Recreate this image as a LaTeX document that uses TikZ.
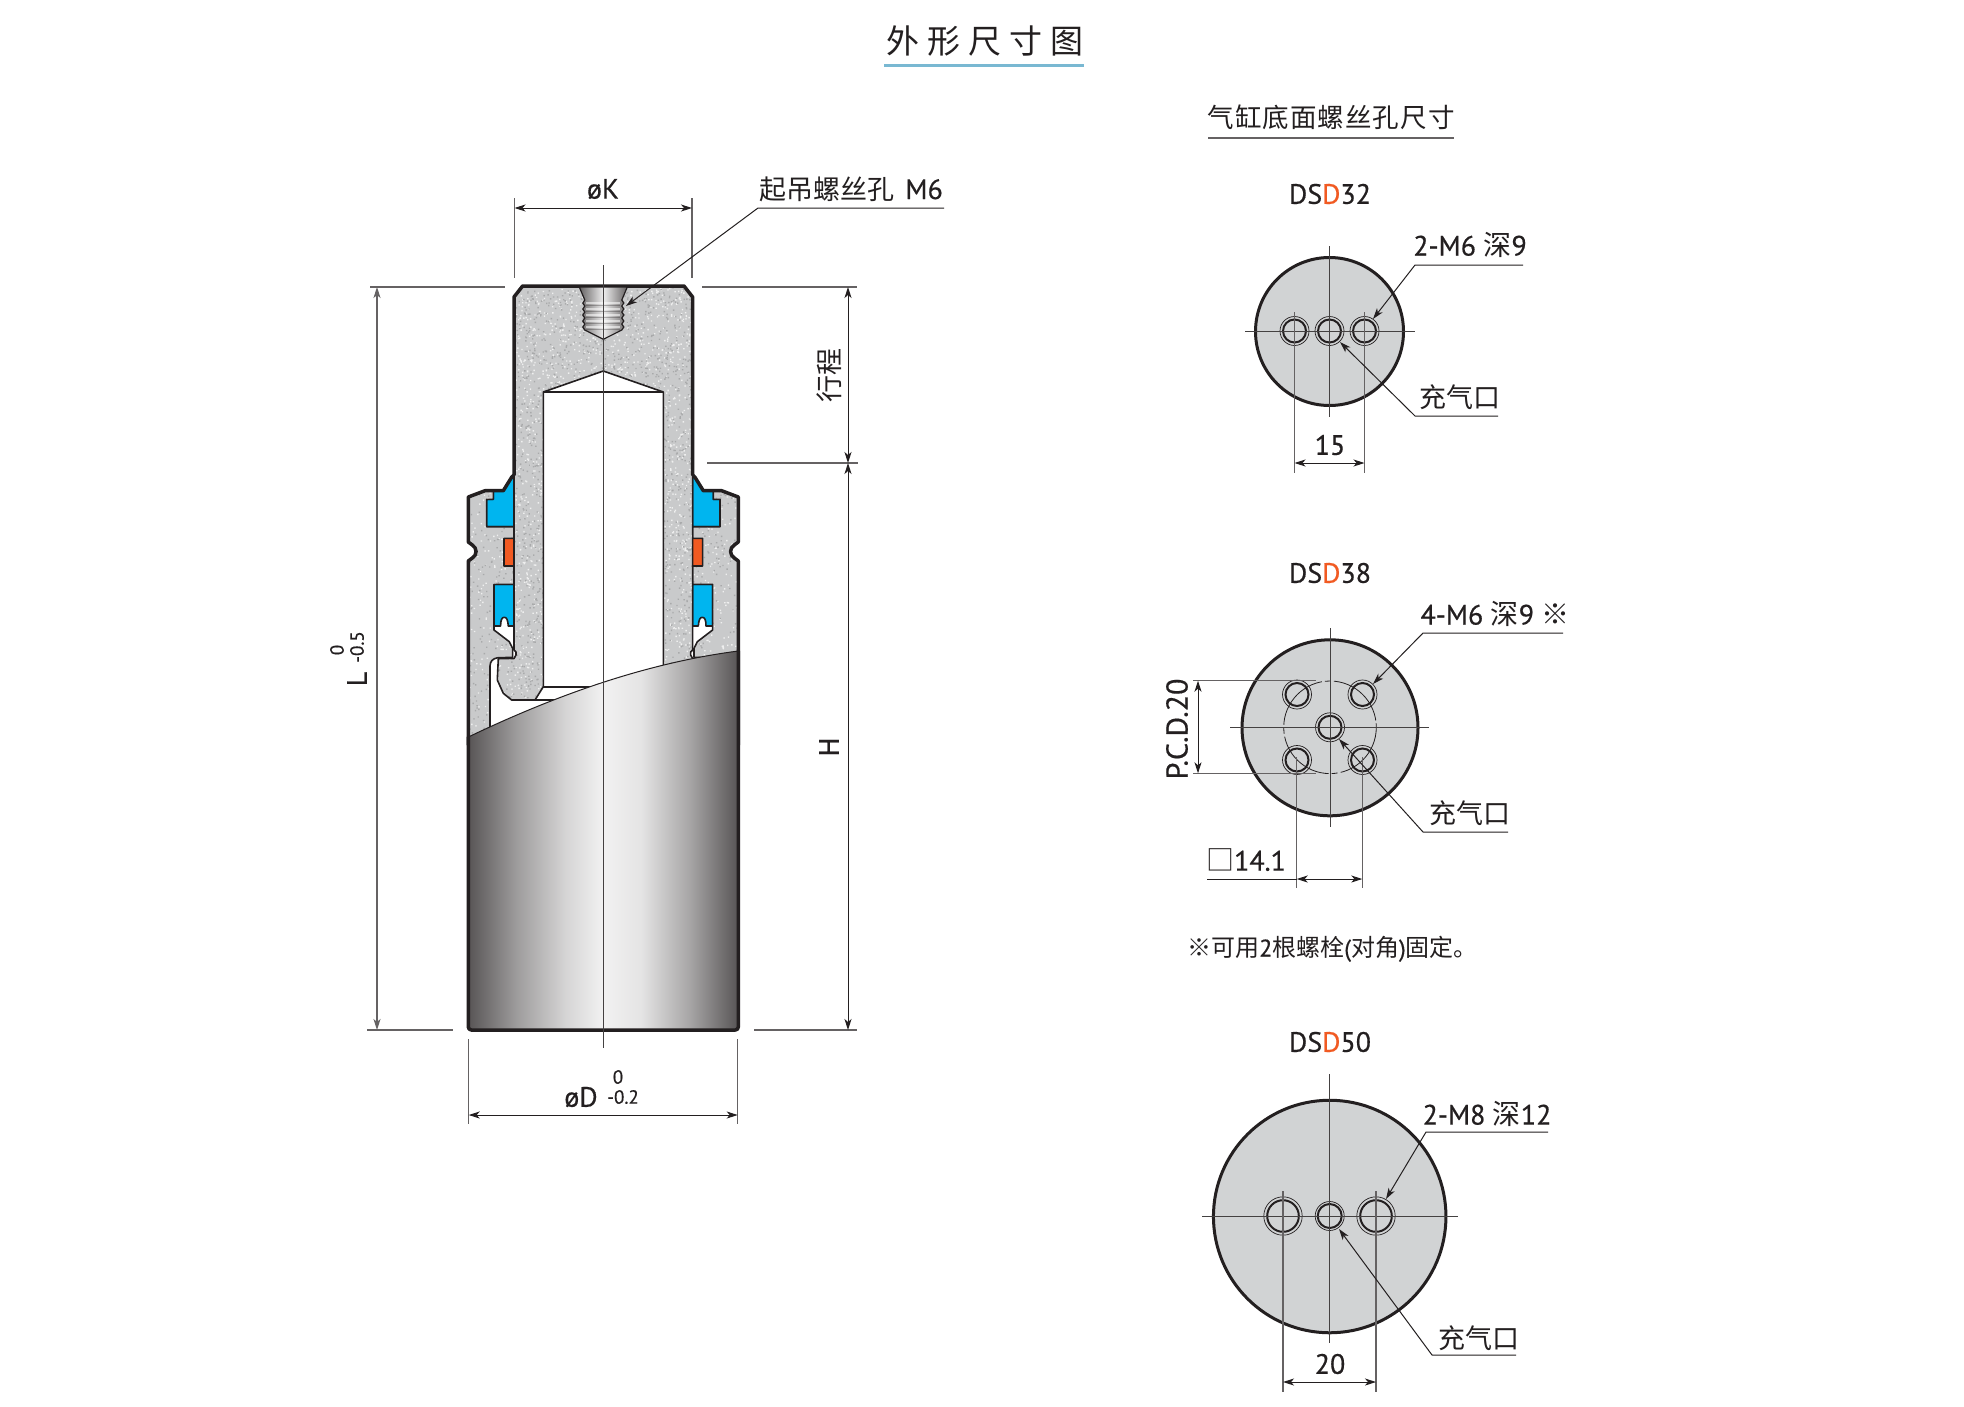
\documentclass[tikz,border=0pt]{standalone}
\usepackage{fontspec}
\setmainfont{PT Sans}[RawFeature={embolden=0.5}]
\newfontfamily\cjk{Noto Sans CJK SC}
\usetikzlibrary{arrows.meta}
\definecolor{ink}{HTML}{231F20}
\definecolor{steel}{HTML}{C9CACB}
\definecolor{plate}{HTML}{D1D3D4}
\definecolor{sealblue}{HTML}{00B5EF}
\definecolor{sealred}{HTML}{F15A22}
\pgfdeclarehorizontalshading{barrel}{100bp}{
	color(0bp)=(ink!76!white); color(25bp)=(ink!76!white);
	color(34bp)=(ink!44!white); color(43bp)=(ink!19!white);
	color(50bp)=(ink!6!white); color(57bp)=(ink!12!white);
	color(66bp)=(ink!40!white); color(75bp)=(ink!76!white);
	color(100bp)=(ink!76!white)}
\pgfdeclarehorizontalshading{tapped}{100bp}{
	color(0bp)=(ink!70!white); color(25bp)=(ink!70!white);
	color(50bp)=(ink!8!white); color(75bp)=(ink!70!white);
	color(100bp)=(ink!70!white)}
\newcommand{\speck}[5]{
	\fill[#1] \foreach \i in {1,...,#2} {({rnd*#3-#3/2},{#4+rnd*#5}) rectangle +(1.4,1.4)};
}
\newcommand{\housing}{(-135,745) -- (-135,561) -- (-131,558) .. controls (-126,555) and (-126,548) .. (-131,545) -- (-135,542) -- (-135,497) -- (-118.3,490.7) -- (-110,490.7) -- (-110,499.3) -- (-116.7,499.3) -- (-116.7,526.7) -- (-89.3,526.7) -- (-89.3,538.3) -- (-99.3,538.3) -- (-99.3,566) -- (-89.3,566) -- (-89.3,584.3) -- (-109.3,584.3) -- (-109.3,630) -- (-94,641.7) -- (-90.7,648.3) -- (-90.7,657.3) -- (-106,657.8) .. controls (-110,658.5) and (-113.3,661) .. (-113.3,666) -- (-113.3,745) -- cycle}
\newcommand{\rodshape}{(-80.7,286) -- (80.7,286) -- (89.3,297) -- (89.3,650) -- (87.3,652) -- (87.3,655) -- (89.3,658.5) -- (105,658.7) -- (106,680) -- (100,693.3) -- (91.7,700) -- (68.3,700) -- (60,686.7) -- (60,392) -- (0,371) -- (-60,392) -- (-60,686.7) -- (-68.3,700) -- (-91.7,700) -- (-100,693.3) -- (-106,680) -- (-105,658.7) -- (-89.3,658.5) -- (-87.3,655) -- (-87.3,652) -- (-89.3,650) -- (-89.3,297) -- cycle}
\newcommand{\holeat}[4]{
	\node[holeout,minimum size=#3] (#1o) at (#2) {};
	\node[holein,minimum size=#4] (#1) at (#2) {};
}
\begin{document}
\begin{tikzpicture}[
		x=1pt,y=-1pt,
		>={Stealth[length=11pt,width=7pt,inset=3pt]},
		lab/.style={text=ink,font=\fontsize{28}{28}\selectfont,inner sep=0pt},
		small/.style={text=ink,font=\fontsize{19}{19}\selectfont,inner sep=0pt},
		cjklab/.style={text=ink,font=\fontsize{27}{27}\selectfont\cjk,inner sep=0pt},
		dim/.style={draw=ink,line width=1pt},
		ext/.style={draw=ink!70!white,line width=1.1pt},
		center/.style={draw=ink!85!white,line width=1pt},
		leader/.style={draw=ink,line width=1pt},
		sec/.style={draw=ink,line width=1.6pt,line join=round},
		outer/.style={draw=ink,line width=3.5pt,line join=round,line cap=round},
		disc/.style={circle,draw=ink,line width=3pt,fill=plate,inner sep=0pt,outer sep=0pt},
		holeout/.style={circle,draw=ink,line width=0.7pt,inner sep=0pt,outer sep=0pt},
		holein/.style={circle,draw=ink,line width=2pt,inner sep=0pt,outer sep=0pt},
		pcd/.style={draw=ink,line width=0.8pt}
		]
		\fill[white] (0,0) rectangle (1964,1406);
		\useasboundingbox (0,0) rectangle (1964,1406);
		% titles
		\node[text=ink,font=\fontsize{33}{33}\selectfont\cjk\addfontfeature{LetterSpace=24},inner sep=0pt] (title) at (985,41) {外形尺寸图};
		\coordinate (titleL) at (884,65);
		\coordinate (titleR) at (1084,65);
		\draw[draw=blue!30!cyan!50!gray!70!white,line width=3pt] (titleL) -- (titleR);
		\node[cjklab,font=\fontsize{26.5}{27}\selectfont\cjk\addfontfeature{LetterSpace=4}] (bottomtitle) at (1331,117) {气缸底面螺丝孔尺寸};
		\coordinate (bottomL) at (1208,138);
		\coordinate (bottomR) at (1454,138);
		\draw[ext] (bottomL) -- (bottomR);
		% side section, left and right seals and housing
		\pgfmathsetseed{7}
		\foreach \sx in {1,-1}
		{
			\begin{scope}[shift={(603.3,0)},xscale=\sx]
				\filldraw[sec,fill=sealblue] (-110,491) -- (-100,491) -- (-91.7,477.3) -- (-89.3,477.3) -- (-89.3,526.7) -- (-116.7,526.7) -- (-116.7,499.3) -- (-110,499.3) -- cycle;
				\filldraw[sec,fill=sealred] (-99.3,538.3) rectangle (-89.3,566);
				\filldraw[sec,fill=sealblue] (-109.3,584.3) -- (-89.3,584.3) -- (-89.3,626) -- (-95,626) .. controls (-95.5,620) and (-96.5,617.3) .. (-99,617.3) .. controls (-101.5,617.3) and (-102.7,620) .. (-102.7,626) -- (-109.3,626) -- cycle;
				\fill[steel] \housing;
				\begin{scope}
					\clip \housing;
					\speck{white!70!steel}{1100}{280}{485}{260}
					\speck{steel!84!black}{1000}{280}{485}{260}
				\end{scope}
				\draw[sec] (-110,491) -- (-110,499.3) -- (-116.7,499.3) -- (-116.7,526.7) -- (-89.3,526.7) -- (-89.3,538.3) -- (-99.3,538.3) -- (-99.3,566) -- (-89.3,566) -- (-89.3,584.3) -- (-109.3,584.3) -- (-109.3,630) -- (-94,641.7) -- (-90.7,648.3) -- (-90.7,657.3) -- (-106,657.8) .. controls (-110,658.5) and (-113.3,661) .. (-113.3,666) -- (-113.3,745);
				\draw[outer] (-135,745) -- (-135,561) -- (-131,558) .. controls (-126,555) and (-126,548) .. (-131,545) -- (-135,542) -- (-135,497) -- (-118.3,490.7) -- (-100,490.7) -- (-91.7,477.3) -- (-89.3,475);
			\end{scope}
		}
		% rod
		\begin{scope}[shift={(603.3,0)}]
			\fill[steel] \rodshape;
			\begin{scope}
				\clip \rodshape;
				\speck{white!70!steel}{3000}{220}{284}{420}
				\speck{steel!84!black}{2600}{220}{284}{420}
			\end{scope}
			\draw[sec] \rodshape;
			\draw[sec] (-60,392) -- (60,392);
			\draw[sec] (-60,686.7) -- (60,686.7);
			\draw[sec] (-68.3,700) -- (68.3,700);
			\draw[outer] (-89.3,475) -- (-89.3,297) -- (-80.7,286) -- (80.7,286) -- (89.3,297) -- (89.3,475);
			% tapped hole
			\shade[shading=tapped,draw=ink,line width=1.2pt] (-24,287) -- (-18.5,300)
				\foreach \ty in {300,306,312,318,324} {-- (-20.5,\ty+3) -- (-18.5,\ty+6)}
				-- (0,339.3) -- (18.5,330)
				\foreach \ty in {324,318,312,306,300} {-- (20.5,\ty+3) -- (18.5,\ty)}
				-- (24,287) -- cycle;
			\foreach \ty in {303,309,315,321,327}
			{
				\draw[draw=white,opacity=0.55,line width=1.2pt] (-17,\ty) -- (17,\ty);
				\draw[draw=ink,opacity=0.3,line width=1.2pt] (-17,\ty+2.5) -- (17,\ty+2.5);
			}
			% outer tube
			\shade[shading=barrel] (-135,737) .. controls (-45,694) and (45,662.7) .. (135,651) -- (135,1030) -- (-135,1030) -- cycle;
			\draw[ink,line width=1pt] (-135,737) .. controls (-45,694) and (45,662.7) .. (135,651);
			\draw[outer,rounded corners=3pt] (-135,737) -- (-135,1030) -- (135,1030) -- (135,651);
		\end{scope}
		% side dimensions
		\coordinate (axisT) at (603.3,265);
		\coordinate (axisB) at (603.3,1048);
		\draw[center] (axisT) -- (axisB);
		\coordinate (kL1) at (514.5,198);
		\coordinate (kL2) at (514.5,278);
		\coordinate (kR1) at (692,198);
		\coordinate (kR2) at (692,278);
		\coordinate (kA) at (514.5,208);
		\coordinate (kB) at (692,208);
		\draw[ext] (kL1) -- (kL2);
		\draw[ext] (kR1) -- (kR2);
		\draw[dim,<->] (kA) -- (kB);
		\node[lab] (dimk) at (603,189) {øK};
		\node[cjklab,anchor=base west] (liftlab) at (759,199) {起吊螺丝孔};
		\node[lab,anchor=base east] (liftsize) at (943,199) {M6};
		\coordinate (liftE) at (944,208);
		\coordinate (liftK) at (758,208);
		\coordinate (liftT) at (626,306);
		\draw[leader,->] (liftE) -- (liftK) -- (liftT);
		\coordinate (lenT1) at (370,287);
		\coordinate (lenT2) at (505,287);
		\coordinate (lenB1) at (367,1030);
		\coordinate (lenB2) at (453,1030);
		\coordinate (lenA) at (377,287);
		\coordinate (lenB) at (377,1030);
		\draw[ext] (lenT1) -- (lenT2);
		\draw[ext] (lenB1) -- (lenB2);
		\draw[ext,<->] (lenA) -- (lenB);
		\node[lab,rotate=90] (lenlab) at (357,679) {L};
		\node[small,rotate=90] (lentop) at (337,650) {0};
		\node[small,rotate=90] (lenbot) at (357,647) {-0.5};
		\coordinate (rT1) at (702,287);
		\coordinate (rT2) at (857,287);
		\coordinate (rM1) at (707,463);
		\coordinate (rM2) at (858,463);
		\coordinate (rB1) at (754,1030);
		\coordinate (rB2) at (857,1030);
		\coordinate (hT) at (848,287);
		\coordinate (hM) at (848,463);
		\coordinate (hB) at (848,1030);
		\draw[ext] (rT1) -- (rT2);
		\draw[ext] (rM1) -- (rM2);
		\draw[ext] (rB1) -- (rB2);
		\draw[dim,<->] (hT) -- (hM);
		\draw[dim,<->] (hM) -- (hB);
		\node[cjklab,rotate=90] (strokelab) at (829,375) {行程};
		\node[lab,rotate=90] (hlab) at (829,747) {H};
		\coordinate (dL1) at (468.7,1039);
		\coordinate (dL2) at (468.7,1124);
		\coordinate (dR1) at (737.7,1039);
		\coordinate (dR2) at (737.7,1124);
		\coordinate (dA) at (468.7,1115);
		\coordinate (dB) at (737.7,1115);
		\draw[ext] (dL1) -- (dL2);
		\draw[ext] (dR1) -- (dR2);
		\draw[dim,<->] (dA) -- (dB);
		\node[lab] (dimd) at (581,1097) {øD};
		\node[small] (dtop) at (618,1077) {0};
		\node[small] (dbot) at (623,1097) {-0.2};
		% DSD32
		\node[lab] (nameA) at (1330,194) {DS\textcolor{sealred}{D}32};
		\node[disc,minimum size=148] (discA) at (1329.5,331.5) {};
		\coordinate (discAl) at (1245,331);
		\coordinate (discAr) at (1415,331);
		\coordinate (discAt) at (1329.5,246);
		\coordinate (discAb) at (1329.5,417);
		\foreach \hn/\hx in {A1/1294.5,A2/1329.5,A3/1364.5}
		{
			\holeat{hole\hn}{\hx,331}{29}{23}
		}
		\draw[center] (discAl) -- (discAr);
		\draw[center] (discAt) -- (discAb);
		\foreach \en/\ex in {a/1294.5,b/1364.5}
		{
			\coordinate (extA\en1) at (\ex,312);
			\coordinate (extA\en2) at (\ex,473);
			\draw[ext] (extA\en1) -- (extA\en2);
		}
		\coordinate (spanAl) at (1294.5,463);
		\coordinate (spanAr) at (1364.5,463);
		\draw[dim,<->] (spanAl) -- (spanAr);
		\node[lab] (spanAlab) at (1330,445) {15};
		\node[lab] (threadA) at (1470,245) {2-M6 {\cjk 深}9};
		\coordinate (threadAe) at (1523,265);
		\coordinate (threadAk) at (1415,265);
		\coordinate (threadAt) at (1373,319);
		\draw[leader,->] (threadAe) -- (threadAk) -- (threadAt);
		\node[cjklab] (portA) at (1460,397) {充气口};
		\coordinate (portAe) at (1498,416);
		\coordinate (portAk) at (1415,416);
		\coordinate (portAt) at (1340,342);
		\draw[leader,->] (portAe) -- (portAk) -- (portAt);
		% DSD38
		\node[lab] (nameB) at (1330,573) {DS\textcolor{sealred}{D}38};
		\node[disc,minimum size=176] (discB) at (1330,727.8) {};
		\draw[pcd,dash pattern=on 62pt off 3pt on 6pt off 3pt] (1330,727.3) circle (46.3);
		\coordinate (discBl) at (1230,727.3);
		\coordinate (discBr) at (1429,727.3);
		\coordinate (discBt) at (1330,628);
		\coordinate (discBb) at (1330,827);
		\foreach \hn/\hx/\hy in {B1/1297/694.5,B2/1362.5/694.5,B3/1330/727.3,B4/1297/760,B5/1362.5/760}
		{
			\holeat{hole\hn}{\hx,\hy}{29}{23}
		}
		\draw[center] (discBl) -- (discBr);
		\draw[center] (discBt) -- (discBb);
		\foreach \en/\ey in {a/680.7,b/773.3}
		{
			\coordinate (extB\en1) at (1193,\ey);
			\coordinate (extB\en2) at (1316,\ey);
			\draw[ext] (extB\en1) -- (extB\en2);
		}
		\coordinate (pcdT) at (1198,680.7);
		\coordinate (pcdB) at (1198,773.3);
		\draw[dim,<->] (pcdT) -- (pcdB);
		\node[lab,font=\fontsize{30}{30}\selectfont,rotate=90] (pcdlab) at (1177,729) {P.C.D.20};
		\foreach \en/\ex in {c/1296.7,d/1362.3}
		{
			\coordinate (extB\en1) at (\ex,757);
			\coordinate (extB\en2) at (\ex,888);
			\draw[ext] (extB\en1) -- (extB\en2);
		}
		\coordinate (sqL) at (1207,879);
		\coordinate (sqA) at (1296.7,879);
		\coordinate (sqB) at (1362.3,879);
		\draw[dim] (sqL) -- (sqA);
		\draw[dim,<->] (sqA) -- (sqB);
		\node[lab] (sqlab) at (1246,860) {{\cjk □}14.1};
		\node[lab] (threadB) at (1495,614) {4-M6 {\cjk 深}9 {\cjk ※}};
		\coordinate (threadBe) at (1563,633);
		\coordinate (threadBk) at (1423,633);
		\coordinate (threadBt) at (1373,684);
		\draw[leader,->] (threadBe) -- (threadBk) -- (threadBt);
		\node[cjklab] (portB) at (1470,813) {充气口};
		\coordinate (portBe) at (1508,832);
		\coordinate (portBk) at (1423,832);
		\coordinate (portBt) at (1339,739);
		\draw[leader,->] (portBe) -- (portBk) -- (portBt);
		\node[text=ink,font=\fontsize{24}{24}\selectfont,inner sep=0pt,anchor=west] (note) at (1187,949) {{\cjk ※可用}2{\cjk 根螺栓}({\cjk 对角}){\cjk 固定。}};
		% DSD50
		\node[lab] (nameC) at (1330,1042) {DS\textcolor{sealred}{D}50};
		\node[disc,minimum size=232.5] (discC) at (1329.7,1216.5) {};
		\coordinate (discCl) at (1202,1216);
		\coordinate (discCr) at (1458,1216);
		\coordinate (discCt) at (1329.7,1074);
		\coordinate (discCb) at (1329.7,1343);
		\holeat{holeC1}{1283,1216}{38.4}{31.6}
		\holeat{holeC2}{1329.7,1216}{29}{24}
		\holeat{holeC3}{1376,1216}{38.4}{31.6}
		\draw[center] (discCl) -- (discCr);
		\draw[center] (discCt) -- (discCb);
		\foreach \en/\ex in {a/1283,b/1376}
		{
			\coordinate (extC\en1) at (\ex,1191);
			\coordinate (extC\en2) at (\ex,1392);
			\draw[ext] (extC\en1) -- (extC\en2);
		}
		\coordinate (spanCl) at (1283,1382);
		\coordinate (spanCr) at (1376,1382);
		\draw[dim,<->] (spanCl) -- (spanCr);
		\node[lab] (spanClab) at (1330,1364) {20};
		\node[lab] (threadC) at (1487,1114) {2-M8 {\cjk 深}12};
		\coordinate (threadCe) at (1548,1132);
		\coordinate (threadCk) at (1426,1132);
		\coordinate (threadCt) at (1386,1199);
		\draw[leader,->] (threadCe) -- (threadCk) -- (threadCt);
		\node[cjklab] (portC) at (1479,1338) {充气口};
		\coordinate (portCe) at (1516,1355);
		\coordinate (portCk) at (1432,1355);
		\coordinate (portCt) at (1339,1229);
		\draw[leader,->] (portCe) -- (portCk) -- (portCt);
\end{tikzpicture}
\end{document}
